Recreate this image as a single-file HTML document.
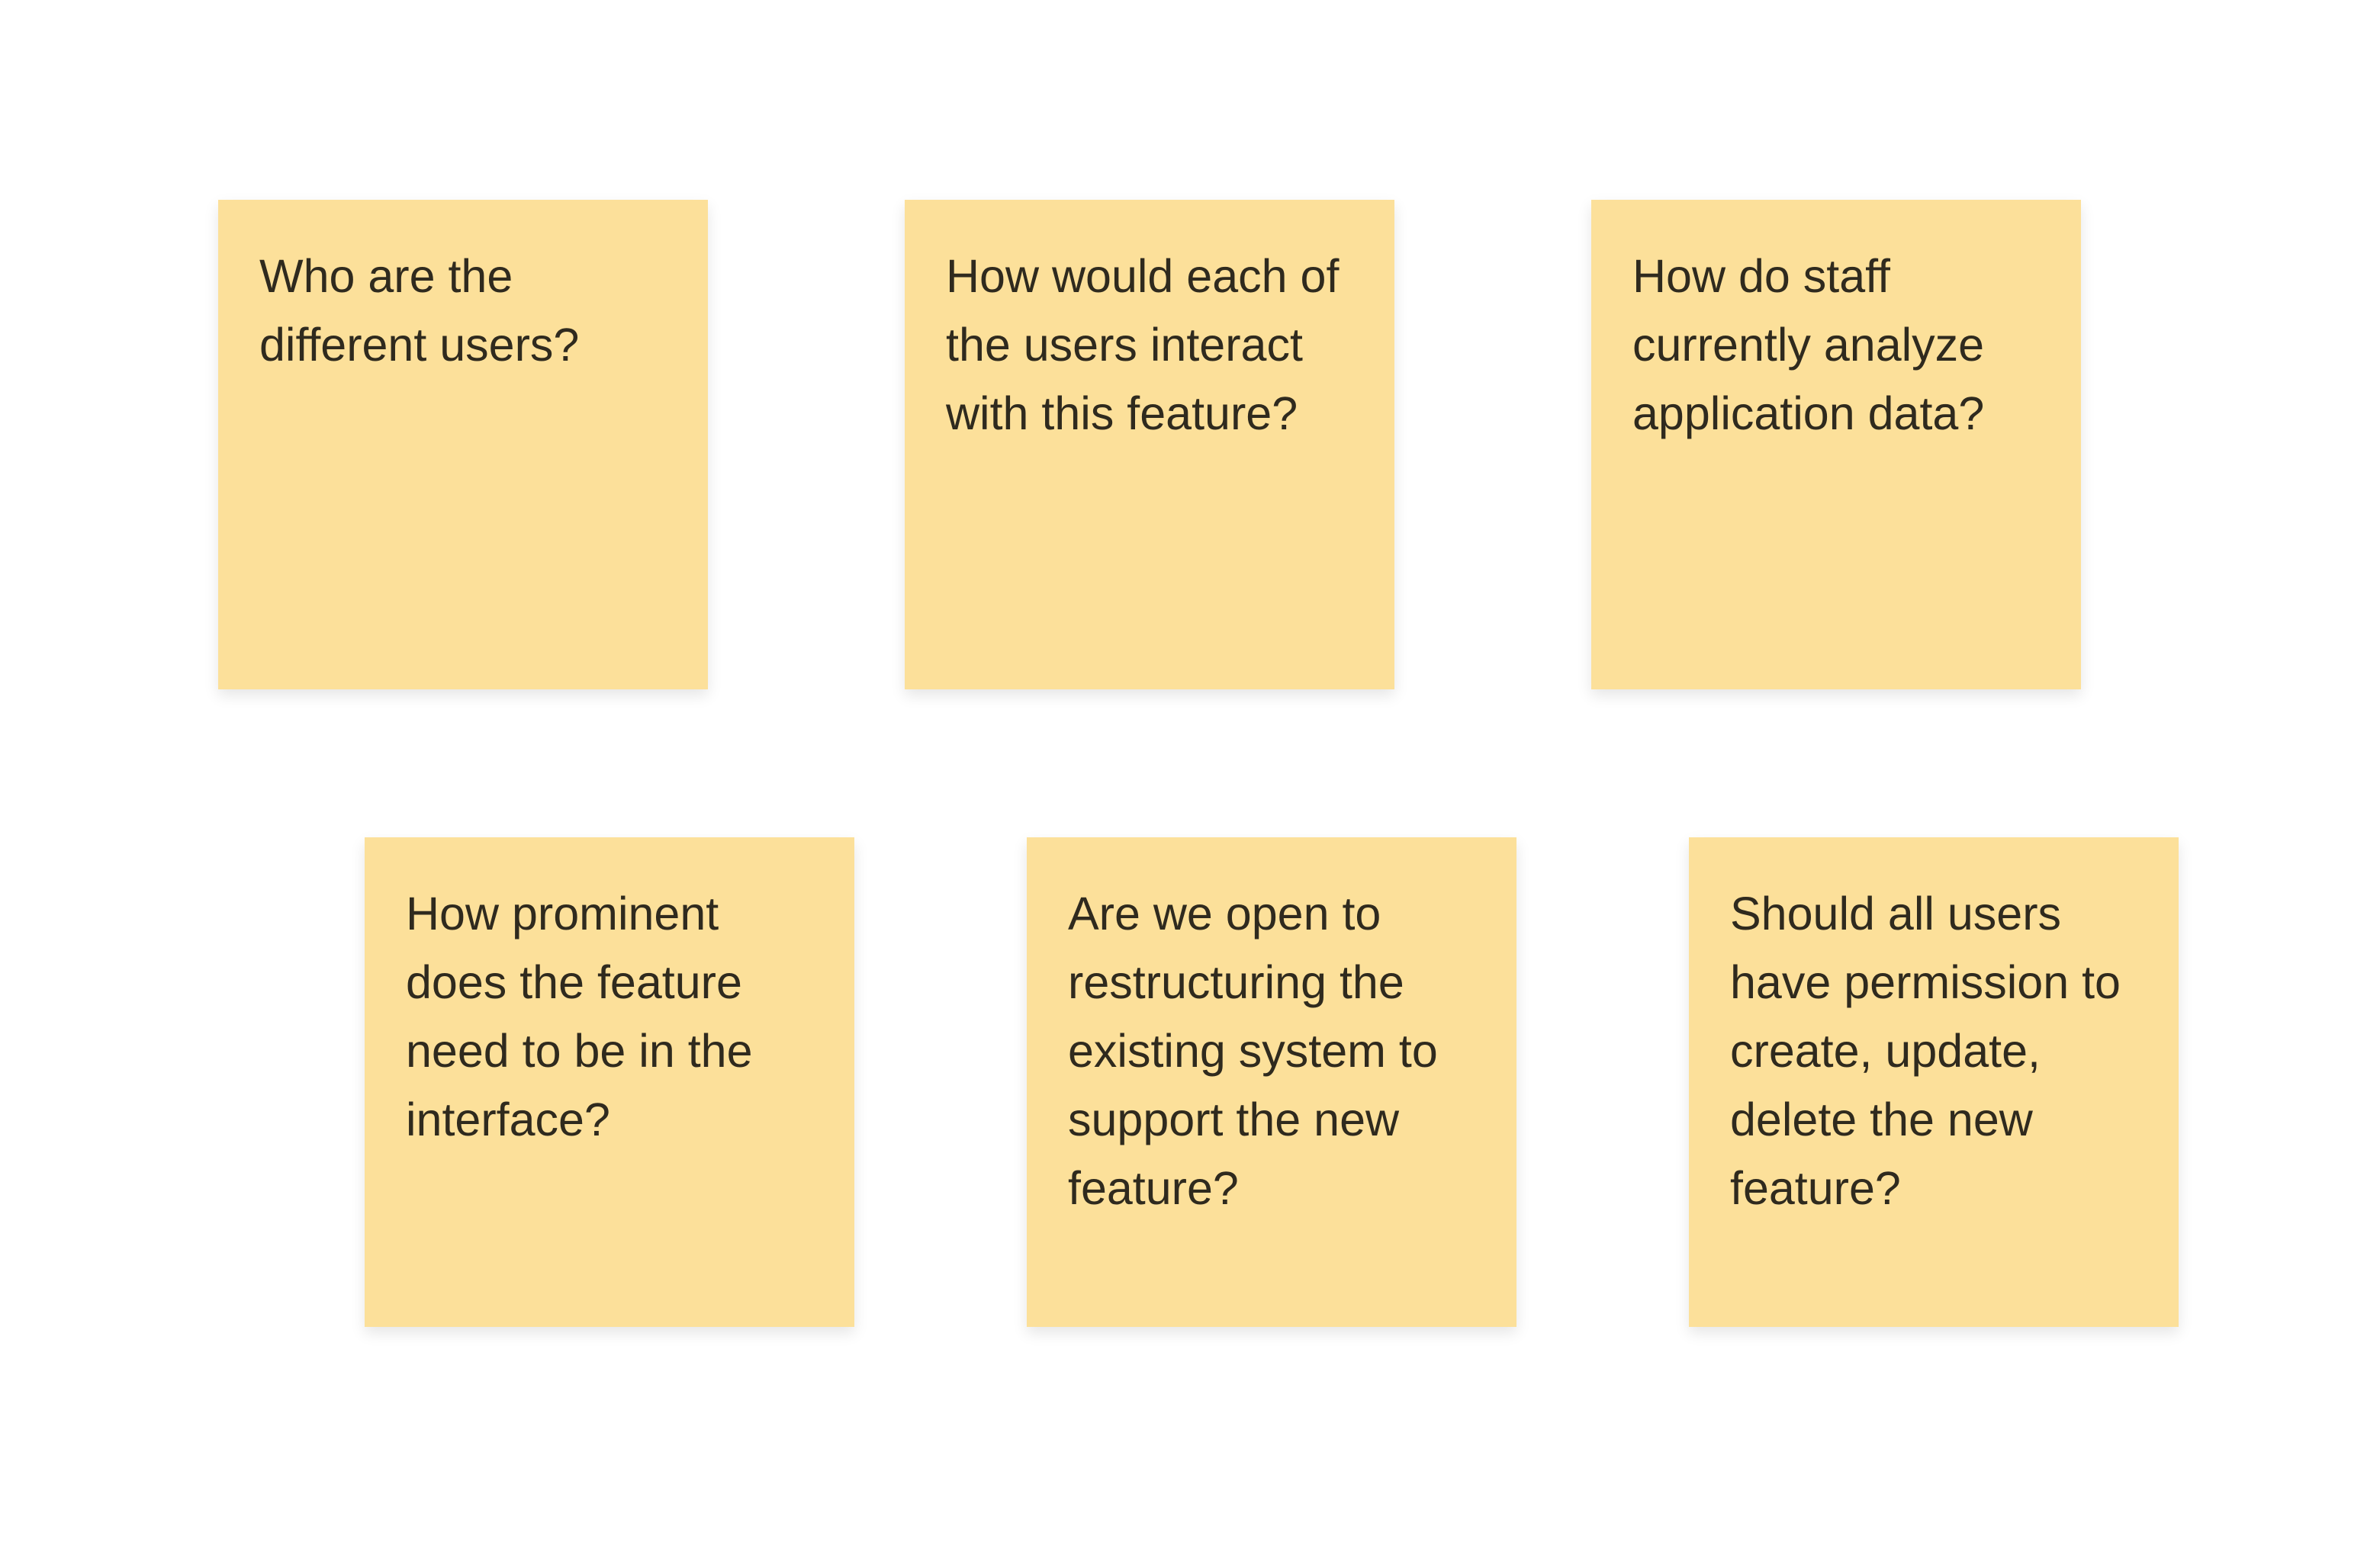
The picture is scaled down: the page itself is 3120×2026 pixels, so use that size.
<!DOCTYPE html>
<html><head><meta charset="utf-8"><style>
html,body{margin:0;padding:0;background:#fff;}
body{width:3120px;height:2026px;position:relative;overflow:hidden;}
.n{position:absolute;width:642px;height:642px;background:#fce09a;box-shadow:0 8px 18px rgba(0,0,0,0.10);box-sizing:border-box;padding:55px 0 0 54px;
font-family:"Liberation Sans",sans-serif;font-size:61px;line-height:90px;color:#2f2a1e;white-space:nowrap;}
</style></head><body>
<div class="n" style="left:286px;top:262px">Who are the<br>different users?</div>
<div class="n" style="left:1186px;top:262px">How would each of<br>the users interact<br>with this feature?</div>
<div class="n" style="left:2086px;top:262px">How do staff<br>currently analyze<br>application data?</div>
<div class="n" style="left:478px;top:1098px">How prominent<br>does the feature<br>need to be in the<br>interface?</div>
<div class="n" style="left:1346px;top:1098px">Are we open to<br>restructuring the<br>existing system to<br>support the new<br>feature?</div>
<div class="n" style="left:2214px;top:1098px">Should all users<br>have permission to<br>create, update,<br>delete the new<br>feature?</div>
</body></html>
